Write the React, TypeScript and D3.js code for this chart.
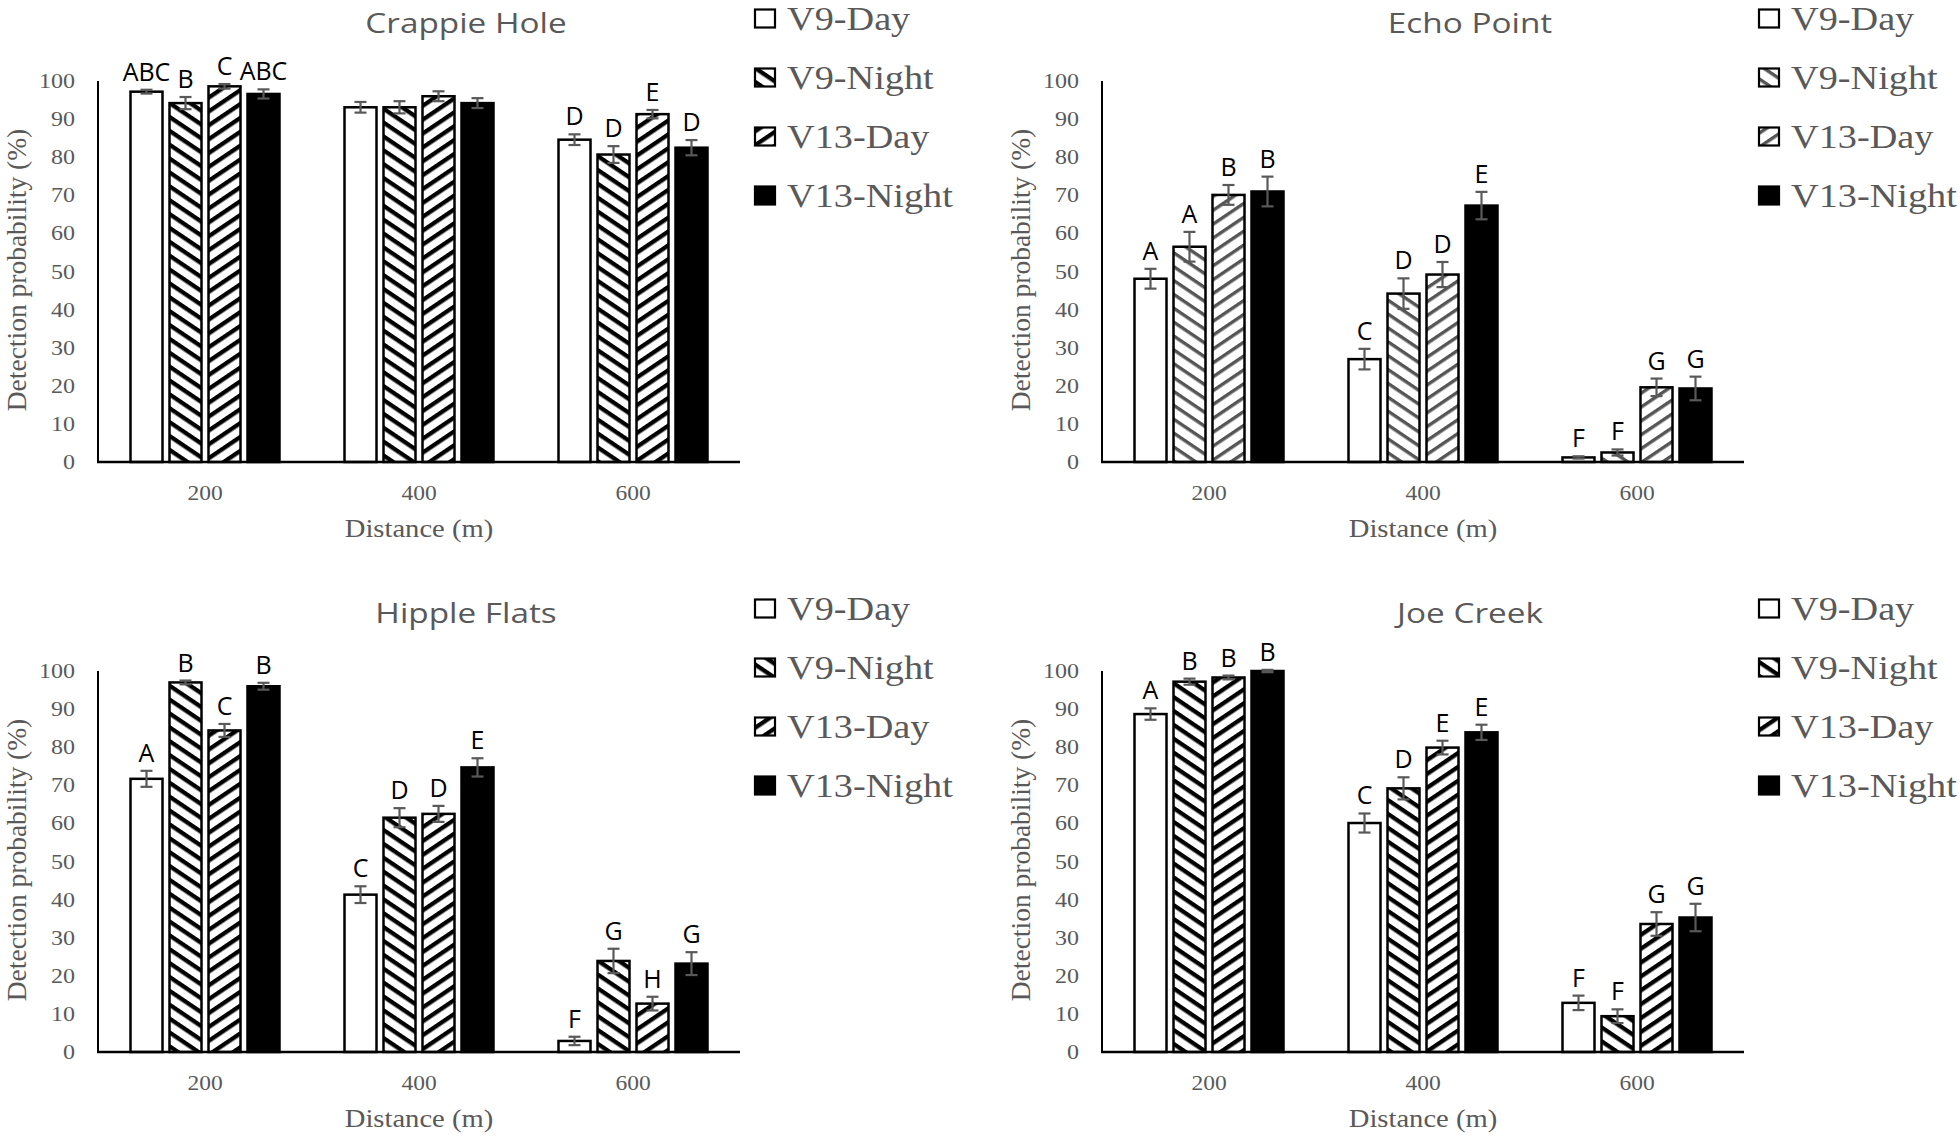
import React from "react";
import * as d3 from "d3";

const distances = ["200", "400", "600"];
const seriesNames = ["V9-Day", "V9-Night", "V13-Day", "V13-Night"];
const yTicks = [0, 10, 20, 30, 40, 50, 60, 70, 80, 90, 100];

const crappieMeans = [[97.2, 94.2, 98.6, 96.6], [93.1, 93.1, 96.0, 94.2], [84.6, 80.7, 91.3, 82.5]];
const crappieErrs = [[0.5, 1.6, 0.6, 1.2], [1.4, 1.6, 1.3, 1.3], [1.4, 2.2, 1.1, 2.0]];
const crappieLetters = [["ABC", "B", "C", "ABC"], ["", "", "", ""], ["D", "D", "E", "D"]];

const echoMeans = [[48.1, 56.5, 70.1, 71.0], [27.0, 44.2, 49.2, 67.3], [1.2, 2.5, 19.6, 19.3]];
const echoErrs = [[2.6, 3.9, 2.6, 3.9], [2.7, 4.0, 3.3, 3.6], [0.3, 0.8, 2.3, 3.1]];
const echoLetters = [["A", "A", "B", "B"], ["C", "D", "D", "E"], ["F", "F", "G", "G"]];

const hippleMeans = [[71.7, 97.0, 84.4, 96.0], [41.3, 61.5, 62.5, 74.7], [2.9, 23.9, 12.7, 23.2]];
const hippleErrs = [[2.1, 0.5, 1.7, 0.9], [2.2, 2.5, 2.1, 2.4], [1.1, 3.2, 1.8, 3.0]];
const hippleLetters = [["A", "B", "C", "B"], ["C", "D", "D", "E"], ["F", "G", "H", "G"]];

const joeMeans = [[88.7, 97.2, 98.3, 100.0], [60.1, 69.2, 79.9, 83.9], [12.9, 9.4, 33.6, 35.3]];
const joeErrs = [[1.5, 0.8, 0.5, 0.3], [2.5, 2.9, 1.8, 2.0], [1.9, 1.8, 3.1, 3.6]];
const joeLetters = [["A", "B", "B", "B"], ["C", "D", "E", "E"], ["F", "F", "G", "G"]];

const siteTitles = ["Crappie Hole", "Echo Point", "Hipple Flats", "Joe Creek"];

const GRAY = "#595959";
const SERIF = "'Liberation Serif', 'Times New Roman', serif";
const SANS = "'Open Sans', 'Noto Sans', sans-serif";

type TP = {
  x: number; y: number; sx?: number; anchor?: string; size: number; family: string; fill: string; children: React.ReactNode; rotate?: number;
};
function SText({ x, y, sx = 1, anchor = "start", size, family, fill, children, rotate = 0 }: TP) {
  return (
    <text
      transform={`translate(${x},${y}) scale(${sx},1)${rotate ? ` rotate(${rotate})` : ""}`}
      textAnchor={anchor}
      fontSize={size}
      fontFamily={family}
      fill={fill}
    >
      {children}
    </text>
  );
}

function Panel({ idx, ox, oy, means, errs, letters, hatch }: any) {
  const x = d3.scaleBand<string>().domain(distances).range([98 + ox, 740 + ox]).padding(0);
  const inner = d3.scaleBand<string>().domain(seriesNames).range([0, 149]).paddingInner(7 / 39).paddingOuter(0);
  const y = d3.scaleLinear().domain([0, 100]).range([462 + oy, 81 + oy]);
  const fills = ["#fff", `url(#hatchDown${idx})`, `url(#hatchUp${idx})`, "#000"];
  return (
    <g>
      <defs>
        <pattern id={`hatchDown${idx}`} patternUnits="userSpaceOnUse" width={12} height={11.5} patternTransform="rotate(34)">
          <rect width={12} height={11.5} fill="#fff" />
          <rect width={12} height={idx === 1 ? 3.4 : 4.3} fill={hatch} />
        </pattern>
        <pattern id={`hatchUp${idx}`} patternUnits="userSpaceOnUse" width={12} height={11.5} patternTransform="rotate(-34)">
          <rect width={12} height={11.5} fill="#fff" />
          <rect width={12} height={idx === 1 ? 3.4 : 4.3} fill={hatch} />
        </pattern>
      </defs>
      {/* title */}
      <SText x={466 + ox} y={33 + oy} sx={1.19} anchor="middle" size={28} family={SANS} fill={GRAY}>
        {siteTitles[idx]}
      </SText>
      {/* y tick labels */}
      {yTicks.map((t) => (
        <SText key={t} x={75 + ox} y={y(t) + 7} sx={1.2} anchor="end" size={20} family={SERIF} fill={GRAY}>
          {t}
        </SText>
      ))}
      {/* y title */}
      <SText x={26 + ox} y={270 + oy} anchor="middle" size={27.5} family={SERIF} fill={GRAY} rotate={-90}>
        Detection probability (%)
      </SText>
      {/* bars */}
      {distances.map((dist, di) => {
        const gx = (x(dist) as number) + x.bandwidth() / 2 - 74.5;
        return (
          <g key={dist}>
            {seriesNames.map((s, si) => {
              const v = means[di][si];
              const e = errs[di][si];
              const bx = gx + (inner(s) as number);
              const bw = inner.bandwidth();
              const cx = bx + bw / 2;
              const lab = letters[di][si];
              return (
                <g key={s}>
                  <rect x={bx} y={y(v)} width={bw} height={y(0) - y(v)} fill={fills[si]} stroke="#000" strokeWidth={2.5} />
                  <line x1={cx} x2={cx} y1={y(v + e)} y2={y(v - e)} stroke={GRAY} strokeWidth={2.2} />
                  <line x1={cx - 6} x2={cx + 6} y1={y(v + e)} y2={y(v + e)} stroke={GRAY} strokeWidth={2.2} />
                  <line x1={cx - 6} x2={cx + 6} y1={y(v - e)} y2={y(v - e)} stroke={GRAY} strokeWidth={2.2} />
                  {lab && (
                    <SText x={cx} y={y(v + e) - 9} anchor="middle" size={25} family={SANS} fill="#000">
                      {lab}
                    </SText>
                  )}
                </g>
              );
            })}
            <SText x={(x(dist) as number) + x.bandwidth() / 2} y={500 + oy} sx={1.12} anchor="middle" size={21} family={SERIF} fill={GRAY}>
              {dist}
            </SText>
          </g>
        );
      })}
      {/* axes */}
      <line x1={98 + ox} x2={98 + ox} y1={y(100)} y2={y(0)} stroke="#000" strokeWidth={2} />
      <line x1={97 + ox} x2={740 + ox} y1={y(0)} y2={y(0)} stroke="#000" strokeWidth={2.5} />
      {/* x title */}
      <SText x={419 + ox} y={537 + oy} sx={1.1} anchor="middle" size={26} family={SERIF} fill={GRAY}>
        Distance (m)
      </SText>
      {/* legend */}
      {seriesNames.map((s, si) => {
        const cy = 18.5 + si * 59 + oy;
        return (
          <g key={s}>
            <rect x={755 + ox} y={cy - 9} width={20} height={18} fill={fills[si]} stroke="#000" strokeWidth={2.2} />
            <SText x={787 + ox} y={cy + 11} sx={1.16} size={33} family={SERIF} fill={GRAY}>
              {s}
            </SText>
          </g>
        );
      })}
    </g>
  );
}

export default function App() {
  const panels = [
    { means: crappieMeans, errs: crappieErrs, letters: crappieLetters, ox: 0, oy: 0, hatch: "#000" },
    { means: echoMeans, errs: echoErrs, letters: echoLetters, ox: 1004, oy: 0, hatch: "#555" },
    { means: hippleMeans, errs: hippleErrs, letters: hippleLetters, ox: 0, oy: 590, hatch: "#000" },
    { means: joeMeans, errs: joeErrs, letters: joeLetters, ox: 1004, oy: 590, hatch: "#000" },
  ];
  return (
    <svg width={1960} height={1138} style={{ position: "absolute", left: 0, top: 0, background: "#fff" }}>
      <rect width={1960} height={1138} fill="#fff" />
      {panels.map((p, i) => (
        <Panel key={i} idx={i} {...p} />
      ))}
    </svg>
  );
}
